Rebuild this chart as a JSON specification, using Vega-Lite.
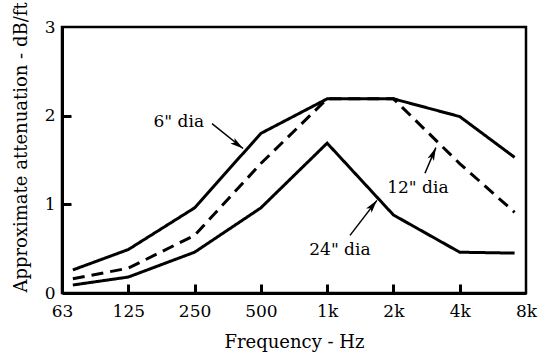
{
  "$schema": "https://vega.github.io/schema/vega-lite/v6.json",
  "width": 464,
  "height": 266,
  "autosize": "none",
  "padding": {"left": 62, "top": 27, "right": 12, "bottom": 63},
  "background": "white",
  "config": {
    "view": {"stroke": "black", "strokeWidth": 2.5},
    "font": "DejaVu Serif",
    "axis": {
      "grid": false,
      "domainColor": "black",
      "domainWidth": 3,
      "labelFont": "DejaVu Serif",
      "labelFontSize": 17,
      "labelColor": "black",
      "titleFont": "DejaVu Serif",
      "titleFontSize": 18,
      "titleFontWeight": "normal",
      "titleColor": "black"
    }
  },
  "resolve": {"axis": {"x": "independent", "y": "independent"}},
  "datasets": {
    "curves": [
      {"series": "6\" dia", "freq": 70, "att": 0.26},
      {"series": "6\" dia", "freq": 125, "att": 0.49},
      {"series": "6\" dia", "freq": 250, "att": 0.96},
      {"series": "6\" dia", "freq": 500, "att": 1.8},
      {"series": "6\" dia", "freq": 1000, "att": 2.19},
      {"series": "6\" dia", "freq": 2000, "att": 2.19},
      {"series": "6\" dia", "freq": 4000, "att": 1.99},
      {"series": "6\" dia", "freq": 7100, "att": 1.53},
      {"series": "12\" dia", "freq": 70, "att": 0.16},
      {"series": "12\" dia", "freq": 125, "att": 0.28},
      {"series": "12\" dia", "freq": 250, "att": 0.65},
      {"series": "12\" dia", "freq": 500, "att": 1.46},
      {"series": "12\" dia", "freq": 1000, "att": 2.19},
      {"series": "12\" dia", "freq": 2000, "att": 2.19},
      {"series": "12\" dia", "freq": 4000, "att": 1.46},
      {"series": "12\" dia", "freq": 7100, "att": 0.91},
      {"series": "24\" dia", "freq": 70, "att": 0.09},
      {"series": "24\" dia", "freq": 125, "att": 0.18},
      {"series": "24\" dia", "freq": 250, "att": 0.46},
      {"series": "24\" dia", "freq": 500, "att": 0.96},
      {"series": "24\" dia", "freq": 1000, "att": 1.69},
      {"series": "24\" dia", "freq": 2000, "att": 0.88},
      {"series": "24\" dia", "freq": 4000, "att": 0.46},
      {"series": "24\" dia", "freq": 7100, "att": 0.45}
    ],
    "arrows": [
      {"label": "6\" dia", "fx": 300, "ay": 1.91, "tx": 415, "ty": 1.63},
      {"label": "12\" dia", "fx": 2781, "ay": 1.35, "tx": 3117, "ty": 1.64},
      {"label": "24\" dia", "fx": 1270, "ay": 0.65, "tx": 1683, "ty": 1.045}
    ],
    "labels": [
      {"label": "6\" dia", "freq": 212, "att": 1.93},
      {"label": "12\" dia", "freq": 2583, "att": 1.18},
      {"label": "24\" dia", "freq": 1143, "att": 0.49}
    ]
  },
  "layer": [
    {
      "data": {"name": "curves"},
      "mark": {"type": "line", "color": "black", "strokeWidth": 3, "strokeJoin": "miter"},
      "encoding": {
        "x": {
          "field": "freq", "type": "quantitative",
          "scale": {"type": "log", "base": 2, "domain": [62.5, 8000], "nice": false},
          "axis": {
            "title": "Frequency - Hz",
            "orient": "bottom",
            "values": [62.5, 125, 250, 500, 1000, 2000, 4000, 8000],
            "labelExpr": "datum.value == 62.5 ? '63' : (datum.value >= 1000 ? (datum.value / 1000) + 'k' : datum.value + '')",
            "ticks": false,
            "tickSize": 0,
            "labelPadding": 10,
            "titlePadding": 14,
            "labelFlush": false,
            "labelOverlap": false,
            "zindex": 1
          }
        },
        "y": {
          "field": "att", "type": "quantitative",
          "scale": {"domain": [0, 3], "nice": false},
          "axis": {
            "title": "Approximate attenuation - dB/ft",
            "orient": "left",
            "values": [0, 1, 2, 3],
            "format": "d",
            "ticks": false,
            "tickSize": 0,
            "labelPadding": 7,
            "titlePadding": 14,
            "titleY": 120,
            "labelFlush": false,
            "labelOverlap": false,
            "zindex": 1
          }
        },
        "detail": {"field": "series"},
        "strokeDash": {
          "field": "series", "type": "nominal",
          "scale": {"domain": ["6\" dia", "12\" dia", "24\" dia"], "range": [[1, 0], [12, 7], [1, 0]]},
          "legend": null
        }
      }
    },
    {
      "data": {"name": "arrows"},
      "mark": {"type": "rule", "color": "black", "strokeWidth": 1.5},
      "encoding": {
        "x": {"field": "fx", "type": "quantitative", "axis": null},
        "x2": {"field": "tx"},
        "y": {"field": "ay", "type": "quantitative", "axis": null},
        "y2": {"field": "ty"}
      }
    },
    {
      "data": {"name": "arrows"},
      "transform": [{"filter": "datum.label == '6\" dia'"}],
      "mark": {"type": "point", "shape": "M0,0L0.45,1.7L0,1.3L-0.45,1.7Z", "filled": true, "color": "black", "opacity": 1, "size": 240, "angle": 126},
      "encoding": {
        "x": {"field": "tx", "type": "quantitative", "axis": null},
        "y": {"field": "ty", "type": "quantitative", "axis": null}
      }
    },
    {
      "data": {"name": "arrows"},
      "transform": [{"filter": "datum.label == '12\" dia'"}],
      "mark": {"type": "point", "shape": "M0,0L0.45,1.7L0,1.3L-0.45,1.7Z", "filled": true, "color": "black", "opacity": 1, "size": 240, "angle": 23},
      "encoding": {
        "x": {"field": "tx", "type": "quantitative", "axis": null},
        "y": {"field": "ty", "type": "quantitative", "axis": null}
      }
    },
    {
      "data": {"name": "arrows"},
      "transform": [{"filter": "datum.label == '24\" dia'"}],
      "mark": {"type": "point", "shape": "M0,0L0.45,1.7L0,1.3L-0.45,1.7Z", "filled": true, "color": "black", "opacity": 1, "size": 240, "angle": 38},
      "encoding": {
        "x": {"field": "tx", "type": "quantitative", "axis": null},
        "y": {"field": "ty", "type": "quantitative", "axis": null}
      }
    },
    {
      "data": {"name": "labels"},
      "mark": {"type": "text", "font": "DejaVu Serif", "fontSize": 17, "color": "black", "align": "center", "baseline": "middle"},
      "encoding": {
        "x": {
          "field": "freq", "type": "quantitative",
          "axis": {
            "orient": "top",
            "offset": -266,
            "title": null,
            "labels": false,
            "domain": false,
            "ticks": true,
            "tickSize": 9,
            "tickWidth": 3,
            "tickColor": "black",
            "values": [125, 250, 500, 1000, 2000, 4000],
            "zindex": 1
          }
        },
        "y": {
          "field": "att", "type": "quantitative",
          "axis": {
            "orient": "right",
            "offset": -464,
            "title": null,
            "labels": false,
            "domain": false,
            "ticks": true,
            "tickSize": 9,
            "tickWidth": 3,
            "tickColor": "black",
            "values": [1, 2],
            "zindex": 1
          }
        },
        "text": {"field": "label"}
      }
    }
  ]
}
